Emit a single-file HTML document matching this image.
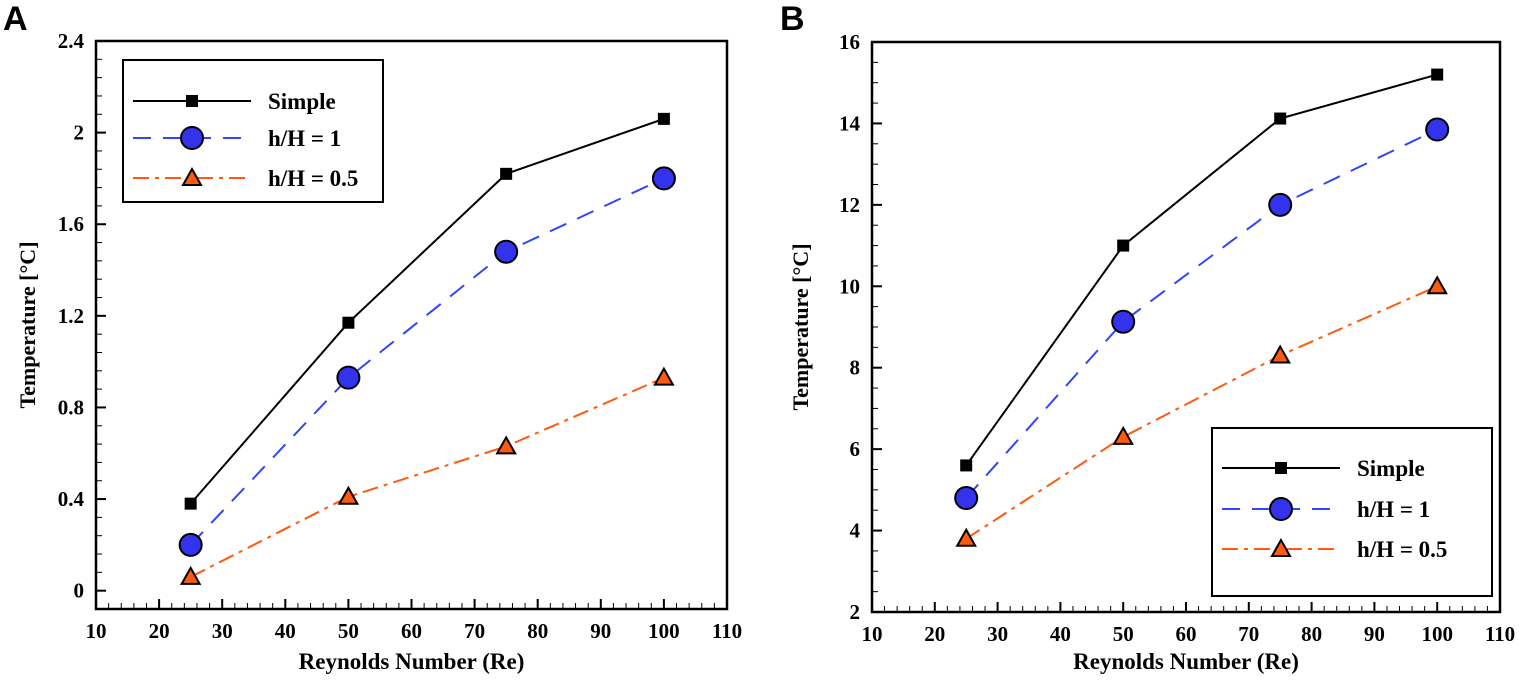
<!DOCTYPE html>
<html><head><meta charset="utf-8"><style>body{margin:0;background:#fff}svg{display:block}</style></head>
<body>
<svg id="s" width="1519" height="680" xmlns="http://www.w3.org/2000/svg" font-family="Liberation Serif, serif" font-weight="bold"></svg>
<script>
const S=document.getElementById('s');let h='';
function panel(o){
 const {L,R,T,B,xmin,xmax,ymin,ymax,ymaj,ysub,lab,data,leg,letter,lx,ylbl}=o;
 const X=v=>L+(v-xmin)/(xmax-xmin)*(R-L), Y=v=>B-(v-ymin)/(ymax-ymin)*(B-T);
 h+=`<text x="${lx}" y="30" font-family="Liberation Sans,sans-serif" font-size="34" font-weight="bold">${letter}</text>`;
 h+=`<rect x="${L}" y="${T}" width="${R-L}" height="${B-T}" fill="none" stroke="#000" stroke-width="2.5"/>`;
 for(let v=xmin;v<=xmax+1e-6;v+=2){const x=X(v),maj=Math.abs(v%10)<1e-6;h+=`<line x1="${x}" y1="${B}" x2="${x}" y2="${B-(maj?10:6)}" stroke="#000" stroke-width="${maj?2:1}"/>`;
  if(maj)h+=`<text x="${x}" y="${B+29}" font-size="21" text-anchor="middle">${v}</text>`;}
 const st=ymaj/ysub;
 const i0=Math.ceil(ymin/st-1e-6), i1=Math.floor(ymax/st+1e-6);
 for(let i=i0;i<=i1;i++){const v=i*st,y=Y(v),maj=((i%ysub)+ysub)%ysub==0;h+=`<line x1="${L}" y1="${y}" x2="${L+(maj?10:6)}" y2="${y}" stroke="#000" stroke-width="${maj?2:1}"/>`;
  if(maj)h+=`<text x="${L-12}" y="${y+7}" font-size="21" text-anchor="end">${lab(v)}</text>`;}
 h+=`<text x="${(L+R)/2}" y="669" font-size="23" text-anchor="middle">Reynolds Number (Re)</text>`;
 h+=`<text transform="translate(${ylbl},${(T+B)/2}) rotate(-90)" font-size="22" text-anchor="middle">Temperature [°C]</text>`;
 const sty=[['#000',''],['#3344ff','18,12'],['#ff5a10','16,6,4,6']];
 const xs=[25,50,75,100];
 function mk(i,x,y){if(i==0)return `<rect x="${x-6}" y="${y-6}" width="12" height="12" fill="#000"/>`;
  if(i==1)return `<circle cx="${x}" cy="${y}" r="11" fill="#3333ee" stroke="#000" stroke-width="2"/>`;
  return `<polygon points="${x},${y-9} ${x-9},${y+7} ${x+9},${y+7}" fill="#ff5a10" stroke="#000" stroke-width="2"/>`;}
 data.forEach((d,i)=>{h+=`<polyline points="${d.map((v,j)=>X(xs[j])+','+Y(v)).join(' ')}" fill="none" stroke="${sty[i][0]}" stroke-width="2" stroke-dasharray="${sty[i][1]}"/>`;
  d.forEach((v,j)=>h+=mk(i,X(xs[j]),Y(v)));});
 const g=leg;h+=`<rect x="${g.x}" y="${g.y}" width="${g.w}" height="${g.h}" fill="#fff" stroke="#000" stroke-width="2"/>`;
 g.names.forEach((n,i)=>{const y=g.ys[i];h+=`<line x1="${g.x+10}" y1="${y}" x2="${g.x+128}" y2="${y}" stroke="${sty[i][0]}" stroke-width="2" stroke-dasharray="${sty[i][1]}"/>`+mk(i,g.x+69,y)+`<text x="${g.x+145}" y="${y+8}" font-size="23">${n}</text>`;});
}
panel({L:96,R:727,T:41,B:609,xmin:10,xmax:110,ymin:-0.08,ymax:2.4,ymaj:0.4,ysub:5,lab:v=>{let r=Math.round(v*10)/10;return r==0?'0':r==2?'2':r.toFixed(1)},
 data:[[0.38,1.17,1.82,2.06],[0.2,0.93,1.48,1.8],[0.06,0.41,0.63,0.93]],letter:'A',lx:3,ylbl:35,
 leg:{x:123,y:60,w:260,h:142,ys:[101,138,178],names:['Simple','h/H = 1','h/H = 0.5']}});
panel({L:872,R:1500,T:42,B:612,xmin:10,xmax:110,ymin:2,ymax:16,ymaj:2,ysub:4,lab:v=>Math.round(v),
 data:[[5.6,11.0,14.12,15.2],[4.8,9.13,12.0,13.85],[3.8,6.3,8.3,10.0]],letter:'B',lx:780,ylbl:808,
 leg:{x:1212,y:428,w:280,h:168,ys:[468,509,549],names:['Simple','h/H =  1','h/H = 0.5']}});
S.innerHTML=h;
</script>
</body></html>
